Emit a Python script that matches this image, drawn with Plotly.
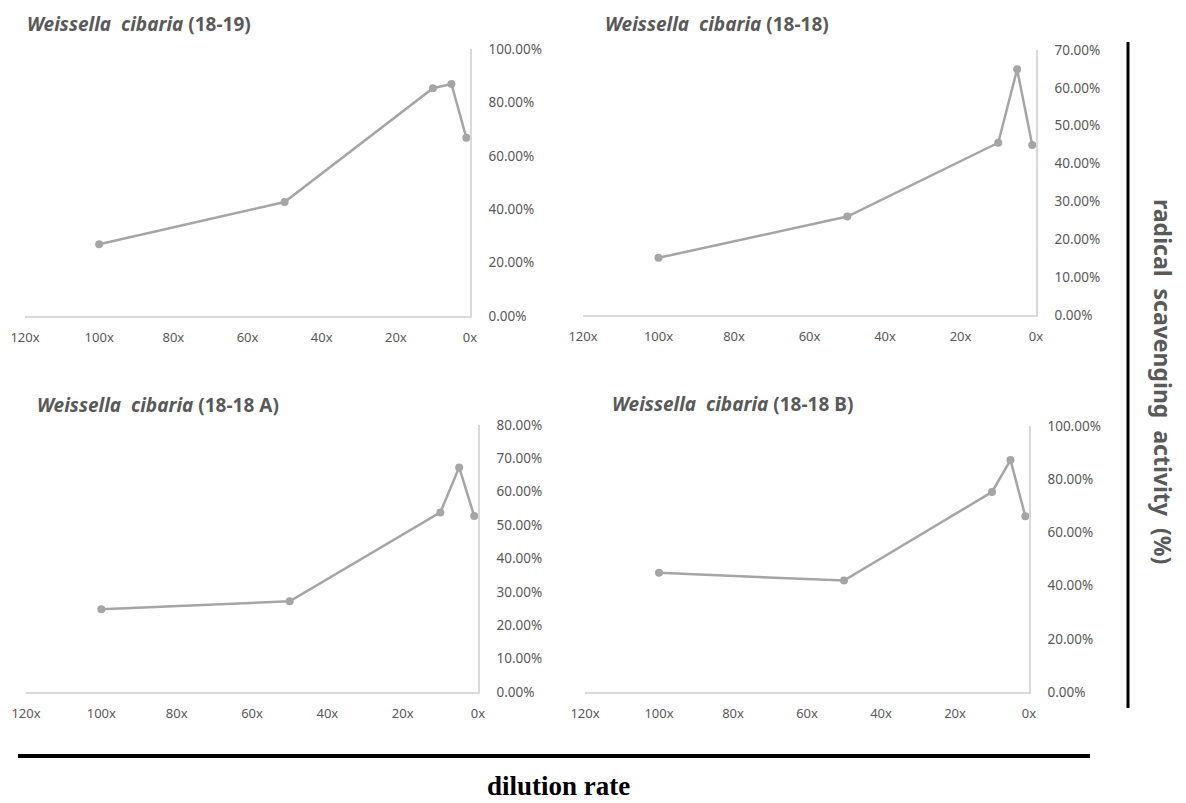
import plotly.graph_objects as go

# Dilution factors (x) and radical scavenging activity (fraction) for each strain
dilution = [100, 50, 10, 5, 1]
x_ticks = [120, 100, 80, 60, 40, 20, 0]
x_tick_labels = ["120x", "100x", "80x", "60x", "40x", "20x", "0x"]

strain_names = ["(18-19)", "(18-18)", "(18-18 A)", "(18-18 B)"]
act_18_19 = [0.269, 0.427, 0.853, 0.869, 0.668]
act_18_18 = [0.151, 0.260, 0.455, 0.649, 0.449]
act_18_18a = [0.248, 0.272, 0.538, 0.673, 0.527]
act_18_18b = [0.448, 0.419, 0.752, 0.872, 0.661]
y_max = [1.0, 0.7, 0.8, 1.0]
y_step = [0.2, 0.1, 0.1, 0.2]

W, H = 1186, 803


def px(x):
    return x / W


def py(y):
    return 1 - y / H


GRAY = "#a5a5a5"
TXT = "#595959"
AXIS = "#d9d9d9"
FONT = "Noto Sans"

# panel boxes in pixels: (left, right, top, bottom)
boxes = [(25, 470, 49, 316), (583, 1036, 50, 315), (26, 478, 425, 692), (585, 1029, 426, 692)]
title_pos = [(25, 24), (603, 24), (35, 405), (610, 404)]

series = [act_18_19, act_18_18, act_18_18a, act_18_18b]

fig = go.Figure()
layout = {}
for i, (vals, box) in enumerate(zip(series, boxes)):
    n = "" if i == 0 else str(i + 1)
    l, r, t, b = box
    fig.add_trace(go.Scatter(
        x=dilution, y=vals, mode="lines+markers",
        line=dict(color=GRAY, width=2.5),
        marker=dict(color=GRAY, size=8),
        cliponaxis=False, showlegend=False,
        xaxis="x" + n, yaxis="y" + n,
    ))
    layout["xaxis" + n] = dict(
        domain=[px(l), px(r)], anchor="y" + n, range=[120, 0],
        tickvals=x_ticks, ticktext=x_tick_labels, automargin=False,
        showgrid=False, zeroline=False, showline=True, linecolor=AXIS, linewidth=1.5,
        ticks="", ticklabelstandoff=9,
        tickfont=dict(family=FONT, size=13, color=TXT),
    )
    layout["yaxis" + n] = dict(
        domain=[py(b), py(t)], anchor="x" + n, side="right",
        range=[0, y_max[i]], dtick=y_step[i], tickformat=".2%", automargin=False,
        showgrid=False, zeroline=False, showline=True, linecolor=AXIS, linewidth=1.5,
        ticks="", ticklabelstandoff=14,
        tickfont=dict(family=FONT, size=13.5, color=TXT),
    )

annotations = []
for name, (tx, ty) in zip(strain_names, title_pos):
    annotations.append(dict(
        text=f"<b><i>Weissella  cibaria</i> {name}</b>",
        xref="paper", yref="paper", x=px(tx), y=py(ty),
        xanchor="left", yanchor="middle", showarrow=False,
        font=dict(family=FONT, size=19, color=TXT),
    ))

# shared axis captions
annotations.append(dict(
    text="<b>radical  scavenging  activity  (%)</b>",
    xref="paper", yref="paper", x=px(1163), y=py(381),
    xanchor="center", yanchor="middle", textangle=90, showarrow=False,
    font=dict(family=FONT, size=23, color=TXT),
))
annotations.append(dict(
    text="<b>dilution rate</b>",
    xref="paper", yref="paper", x=px(558), y=py(786),
    xanchor="center", yanchor="middle", showarrow=False, borderpad=0,
    font=dict(family="Liberation Serif", size=27, color="#000000"),
))

shapes = [
    dict(type="line", xref="paper", yref="paper", x0=px(1128), x1=px(1128),
         y0=py(42), y1=py(708), line=dict(color="#000000", width=3)),
    dict(type="line", xref="paper", yref="paper", x0=px(18), x1=px(1090),
         y0=py(756), y1=py(756), line=dict(color="#000000", width=4)),
]

fig.update_layout(
    template="none",
    width=W, height=H, margin=dict(l=0, r=0, t=0, b=0, pad=0, autoexpand=False),
    paper_bgcolor="white", plot_bgcolor="white",
    annotations=annotations, shapes=shapes, **layout,
)
fig.write_html("out.html")
